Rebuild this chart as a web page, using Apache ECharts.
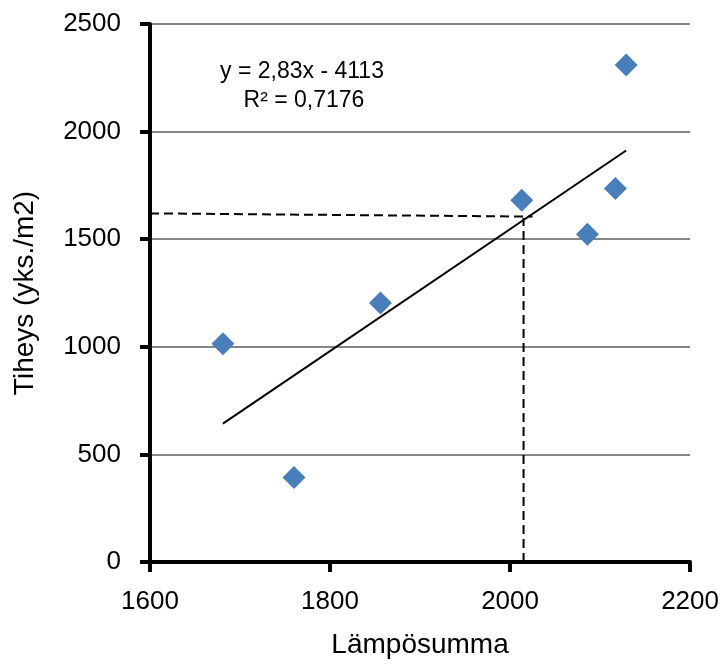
<!DOCTYPE html>
<html><head><meta charset="utf-8">
<script src="https://cdn.jsdelivr.net/npm/echarts@6/dist/echarts.min.js"></script>
<style>html,body{margin:0;padding:0;background:#fff}#c{width:722px;height:664px}</style>
</head><body><div id="c"></div>
<script>
var xValues = [1681, 1760, 1856, 2013, 2086, 2117, 2129];
var yValues = [1014, 393, 1204, 1681, 1523, 1736, 2310];
var trendX = [1681, 2129];
var trendY = [643, 1912];
var refHX = [1600, 2025];
var refHY = [1620, 1605];
var refVX = [2015, 2015];
var refVY = [0, 1600];
var eqText = ['y = 2,83x - 4113', 'R² = 0,7176'];
var xTitle = 'Lämpösumma';
var yTitle = 'Tiheys (yks./m2)';

var font = 'Liberation Sans';
var chart = echarts.init(document.getElementById('c'), null, {renderer: 'canvas'});
function pairs(a, b) { return a.map(function (v, i) { return [v, b[i]]; }); }
function raw(v) { return String(v); }
chart.setOption({
  animation: false,
  grid: {left: 150, right: 30, top: 24, bottom: 100},
  xAxis: {
    type: 'value', min: 1600, max: 2200, interval: 200,
    name: xTitle, nameLocation: 'middle', nameGap: 69,
    nameTextStyle: {fontSize: 28, color: '#000', fontFamily: font},
    axisLine: {show: true, onZero: false, lineStyle: {color: '#000', width: 4}},
    axisTick: {show: true, length: 10, lineStyle: {color: '#000', width: 4}},
    axisLabel: {fontSize: 26, color: '#000', margin: 27, fontFamily: font, formatter: raw},
    splitLine: {show: false}
  },
  yAxis: {
    type: 'value', min: 0, max: 2500, interval: 500,
    name: yTitle, nameLocation: 'middle', nameGap: 111, nameRotate: 90,
    nameTextStyle: {fontSize: 28, color: '#000', fontFamily: font},
    axisLine: {show: true, lineStyle: {color: '#000', width: 4}},
    axisTick: {show: true, length: 10, lineStyle: {color: '#000', width: 4}},
    axisLabel: {fontSize: 26, color: '#000', margin: 29, fontFamily: font, formatter: raw},
    splitLine: {show: true, lineStyle: {color: '#868686', width: 2}}
  },
  series: [
    {type: 'line', data: pairs(refHX, refHY), symbol: 'none', z: 3,
     lineStyle: {color: '#000', width: 2, type: [9, 5]}},
    {type: 'line', data: pairs(refVX, refVY), symbol: 'none', z: 3,
     lineStyle: {color: '#000', width: 2, type: [9, 5]}},
    {type: 'line', data: pairs(trendX, trendY), symbol: 'none', z: 4,
     lineStyle: {color: '#000', width: 2}},
    {type: 'scatter', data: pairs(xValues, yValues), symbol: 'diamond', symbolSize: [23, 23], z: 5,
     itemStyle: {color: '#4a7ebb', opacity: 1}}
  ],
  graphic: [
    {type: 'text', x: 302, y: 72, style: {text: eqText[0], fontSize: 23, fontFamily: font, fill: '#000', align: 'center', verticalAlign: 'middle'}},
    {type: 'text', x: 304, y: 101, style: {text: eqText[1], fontSize: 23, fontFamily: font, fill: '#000', align: 'center', verticalAlign: 'middle'}}
  ]
});
</script></body></html>
